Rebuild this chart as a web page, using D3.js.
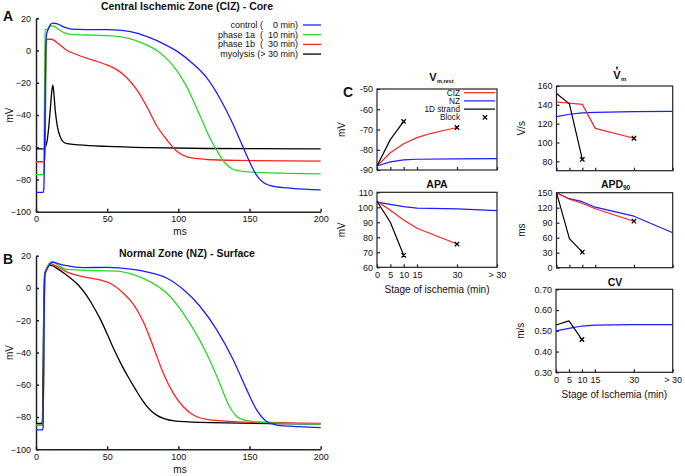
<!DOCTYPE html>
<html><head><meta charset="utf-8">
<script src="https://cdn.jsdelivr.net/npm/d3@7"></script>
<style>
body{margin:0;background:#fff;}
svg{font-family:"Liberation Sans",Arial,Helvetica,sans-serif;}
text{fill:#111;}
</style></head><body>
<svg id="c" width="685" height="476"></svg>
<script>
// ---------- DATA ----------
// Panel A (Central Ischemic Zone - Core), [ms, mV]
const apA_control = [[0,-88],[5,-88],[5.5,-86],[6.3,-40],[6.9,0],[7.4,10],[8.5,13],[10,16],[12,17],[15,16.5],[20,14.5],[25,13.3],[35,13],[50,13],[60,12.5],[70,11],[80,8],[90,4],[100,-1],[110,-8],[120,-17],[130,-31],[138,-45],[145,-59],[150,-69],[155,-77.5],[160,-82],[167,-84.3],[180,-85.5],[200,-86.5]];
const apA_phase1a = [[0,-77],[5,-77],[5.5,-74],[6,-20],[6.4,13],[8,13.3],[9,14],[11,15.3],[13,15],[16,13],[20,11],[25,10],[40,9.5],[55,9],[65,7.5],[75,4.5],[85,0],[95,-8],[105,-21],[115,-40],[122,-54],[127,-62],[132,-69],[138,-73.5],[145,-75],[160,-75.8],[200,-76.5]];
const apA_phase1b = [[0,-69],[6,-69],[6.5,-60],[7,0],[7.5,7],[11,7],[14,5.5],[17,3.4],[21,0.5],[28,-2.3],[40,-5.9],[50,-9],[57,-12],[64,-17],[71,-24.5],[78,-35],[85,-47],[92,-55.5],[99,-62.5],[106,-66],[120,-67.6],[140,-68.2],[200,-68.6]];
const apA_myolysis = [[0,-61],[5,-61],[6,-60.5],[7,-59],[8,-55],[9,-47],[10,-37],[11,-26],[11.8,-21.5],[12.5,-26],[13.5,-37],[15,-47],[17,-53.5],[19,-56.5],[22,-57.8],[30,-58.5],[50,-59.5],[80,-60.3],[120,-60.8],[200,-61]];
// Panel B (Normal Zone - Surface), [ms, mV]
const apB_control = [[0,-88],[4.5,-88],[5,-86],[5.6,-30],[6.2,8],[8,12],[10,15],[12,16],[16,15],[21.5,13.8],[33,12.6],[50,12.8],[68,11.5],[80,9.5],[92,6],[103.5,-1],[115,-11.2],[127,-26],[138.6,-44.6],[148,-63],[155,-75.6],[162,-82.8],[169,-85],[185,-86],[200,-86.6]];
const apB_phase1a = [[0,-85],[4.5,-85],[5,-83],[5.6,-30],[6.2,8],[8,13],[11,16.3],[14,15],[21.5,11.5],[45,10.7],[57,10.5],[68,8.4],[80,3.9],[92,-3.3],[103.5,-15.7],[115,-32.3],[122,-44.6],[129,-59],[136,-73.6],[143,-80.8],[152.7,-82.8],[162,-83.5],[200,-84.3]];
const apB_phase1b = [[0,-85],[4.5,-85],[5,-83],[5.6,-30],[6.2,8],[8,13],[9.8,15.2],[13,14],[17,12.2],[21.5,10],[33,7],[45,5],[52,2.9],[61.4,-3.3],[68,-9.5],[75.4,-20.9],[82.4,-36.4],[89.5,-53],[96.5,-65.3],[103.5,-73.6],[110.5,-78.7],[120,-81.4],[138.6,-82.8],[200,-83.9]];
const apB_myolysis = [[0,-84],[4,-84],[4.5,-82],[5.2,-30],[6,8],[7.5,12],[9.4,14.2],[12,13.6],[15,12],[20,9],[25,5.5],[30,1.5],[35,-4],[40,-11],[45,-19],[50,-28.5],[55,-38.5],[60,-47.5],[65,-55.5],[70,-63],[75,-70],[80,-75.5],[85,-79],[90,-81],[97,-82.4],[115,-83.3],[200,-84.3]];

const apXTicks = [0,50,100,150,200];
const apYTicks = [-100,-80,-60,-40,-20,0,20];
const legendLabels = ["control (    0 min)","phase 1a  (  10 min)","phase 1b  (  30 min)","myolysis (> 30 min)"];

// Panel C: stage of ischemia (min); "> 30" plotted at 45
const stageTicks = [0,5,10,15,30,45];
const stageLabels = ["0","5","10","15","30","> 30"];

const vrest_CIZ = [[0,-88],[5,-81.5],[10,-77],[15,-74],[20,-72],[25,-70.5],[30,-69]];
const vrest_NZ = [[0,-88],[5,-86],[10,-85],[15,-84.7],[30,-84.5],[45,-84.4]];
const vrest_strand = [[0,-88],[5,-75],[10,-66]];
const vrest_block = [[10,-66],[30,-69]];
const vrestTicks = [-90,-80,-70,-60,-50];

const apa_CIZ = [[0,104],[5,98],[10,91.5],[15,86],[30,75.5]];
const apa_NZ = [[0,103.5],[5,102],[10,100.5],[15,99.5],[30,99],[45,97.8]];
const apa_strand = [[0,104],[5,90],[10,68]];
const apa_block = [[10,68],[30,75.5]];
const apaTicks = [60,70,80,90,100,110];

const dvdt_CIZ = [[0,143],[10,140.5],[15,115],[30,104.5]];
const dvdt_NZ = [[0,127.5],[5,130],[10,131.5],[15,132],[30,132.8],[45,133]];
const dvdt_strand = [[0,152],[5,141],[10,82]];
const dvdt_block = [[10,82],[30,104.5]];
const dvdtTicks = [80,100,120,140,160];

const apd_CIZ = [[0,150],[5,137],[10,129],[15,118],[30,93]];
const apd_NZ = [[0,150],[5,138],[10,132],[15,121],[30,103],[45,70]];
const apd_strand = [[0,150],[5,58],[10,31]];
const apd_block = [[10,31],[30,93]];
const apdTicks = [0,30,60,90,120,150];

const cv_NZ = [[0,0.50],[5,0.512],[10,0.523],[15,0.527],[30,0.53],[45,0.53]];
const cv_strand = [[0,0.528],[5,0.548],[10,0.458]];
const cv_block = [[10,0.458]];
const cvTicks = [0.30,0.40,0.50,0.60,0.70];

// ---------- STYLE ----------
const BLUE="#1c1cff", GREEN="#2ad82a", RED="#ff2020", BLACK="#000";
const svg = d3.select("#c");

// ---------- PANELS A & B ----------
function apPanel(cfg){
  const x = d3.scaleLinear().domain([0,200]).range([36,320.7]);
  const y = d3.scaleLinear().domain([-100,20]).range([cfg.yb,cfg.yt]);
  const g = svg.append("g");
  const ax = g.append("g").attr("transform",`translate(36,0)`)
    .call(d3.axisLeft(y).tickValues(apYTicks).tickSize(-3).tickSizeOuter(0).tickPadding(5));
  const bx = g.append("g").attr("transform",`translate(0,${cfg.yb})`)
    .call(d3.axisBottom(x).tickValues(apXTicks).tickSize(-3).tickSizeOuter(0).tickPadding(4));
  [ax,bx].forEach(a=>{a.selectAll("text").attr("font-size",9).attr("font-family",null).attr("fill","#111");
    a.selectAll("path,line").attr("stroke","#222").attr("stroke-width",1.5);});
  const line = d3.line().x(d=>x(d[0])).y(d=>y(d[1])).curve(d3.curveMonotoneX);
  cfg.series.forEach(s=>{
    g.append("path").datum(s.data).attr("d",line).attr("fill","none")
      .attr("stroke",s.color).attr("stroke-width",1.3).attr("stroke-linejoin","round");
  });
  g.append("text").attr("x",187).attr("y",cfg.titleY).attr("text-anchor","middle")
    .attr("font-weight","bold").attr("font-size",10.5).text(cfg.title);
  g.append("text").attr("x",3).attr("y",cfg.letterY).attr("font-weight","bold").attr("font-size",14).text(cfg.letter);
  g.append("text").attr("transform",`translate(13,${(cfg.yt+cfg.yb)/2}) rotate(-90)`)
    .attr("text-anchor","middle").attr("font-size",10).text("mV");
  g.append("text").attr("x",180).attr("y",cfg.yb+23.5).attr("text-anchor","middle").attr("font-size",10).text("ms");
  return g;
}
const gA = apPanel({yt:18.3,yb:211.7,titleY:10,letterY:21,letter:"A",title:"Central Ischemic Zone (CIZ) - Core",
  series:[{data:apA_myolysis,color:BLACK},{data:apA_phase1b,color:RED},{data:apA_phase1a,color:GREEN},{data:apA_control,color:BLUE}]});
const gB = apPanel({yt:255.7,yb:449.3,titleY:256.5,letterY:264,letter:"B",title:"Normal Zone (NZ) - Surface",
  series:[{data:apB_myolysis,color:BLACK},{data:apB_phase1b,color:RED},{data:apB_phase1a,color:GREEN},{data:apB_control,color:BLUE}]});

// legend A
const legCols=[BLUE,GREEN,RED,BLACK];
legendLabels.forEach((t,i)=>{
  const yy = 25 + i*9.7;
  gA.append("text").attr("x",298).attr("y",yy+3).attr("text-anchor","end").attr("font-size",9)
    .style("white-space","pre").attr("xml:space","preserve").text(t);
  gA.append("line").attr("x1",303).attr("x2",321).attr("y1",yy).attr("y2",yy)
    .attr("stroke",legCols[i]).attr("stroke-width",1.3);
});

// ---------- PANEL C ----------
function blockMark(g,px,py){
  g.append("path").attr("d",`M${px-2.2},${py-2.2}L${px+2.2},${py+2.2}M${px-2.2},${py+2.2}L${px+2.2},${py-2.2}`)
    .attr("stroke","#000").attr("stroke-width",1.3);
}
function smallPanel(cfg){
  const x = d3.scaleLinear().domain([0,45]).range([cfg.x0,cfg.x1]);
  const y = d3.scaleLinear().domain(cfg.dom).range([cfg.yb,cfg.yt]);
  const g = svg.append("g");
  const ay = g.append("g").attr("transform",`translate(${cfg.x0},0)`)
    .call(d3.axisLeft(y).tickValues(cfg.ticks).tickSize(-3).tickSizeOuter(0).tickPadding(4)
      .tickFormat(cfg.fmt||(d=>d)));
  const ax = g.append("g").attr("transform",`translate(0,${cfg.yb})`)
    .call(d3.axisBottom(x).tickValues(stageTicks).tickSize(-3).tickSizeOuter(0).tickPadding(4)
      .tickFormat((d,i)=>cfg.xlabels?stageLabels[i]:""));
  [ay,ax].forEach(a=>{a.selectAll("text").attr("font-size",9).attr("font-family",null).attr("fill","#111");
    a.select(".domain").remove(); a.selectAll("line").attr("stroke","#222").attr("stroke-width",1.2);});
  g.append("rect").attr("x",cfg.x0).attr("y",cfg.yt).attr("width",cfg.x1-cfg.x0).attr("height",cfg.yb-cfg.yt)
    .attr("fill","none").attr("stroke","#222").attr("stroke-width",1.2);
  const line = d3.line().x(d=>x(d[0])).y(d=>y(d[1]));
  cfg.series.forEach(s=>{
    g.append("path").datum(s.data).attr("d",line).attr("fill","none")
      .attr("stroke",s.color).attr("stroke-width",1.2).attr("stroke-linejoin","round");
  });
  cfg.block.forEach(d=>blockMark(g,x(d[0]),y(d[1])));
  g.append("text").attr("transform",`translate(${cfg.x0-32},${(cfg.yt+cfg.yb)/2}) rotate(-90)`)
    .attr("text-anchor","middle").attr("font-size",10).text(cfg.ylab);
  cfg.title(g);
  if(cfg.xtitle){
    g.append("text").attr("x",(cfg.x0+cfg.x1)/2).attr("y",cfg.yb+26).attr("text-anchor","middle")
      .attr("font-size",10).text(cfg.xtitle);
  }
  return g;
}
function boldText(g,x,y,s,size,anchor){
  return g.append("text").attr("x",x).attr("y",y).attr("text-anchor",anchor||"middle")
    .attr("font-weight","bold").attr("font-size",size||10.5).text(s);
}
const gV = smallPanel({x0:377,x1:497,yt:89,yb:170,dom:[-90,-50],ticks:vrestTicks,ylab:"mV",
  title:g=>{boldText(g,433,81,"V",11); boldText(g,437,83,"m,rest",5.5,"start");},
  series:[{data:vrest_NZ,color:BLUE},{data:vrest_CIZ,color:RED},{data:vrest_strand,color:BLACK}],block:vrest_block});
smallPanel({x0:377,x1:497,yt:192.3,yb:267.3,dom:[60,110],ticks:apaTicks,ylab:"mV",xlabels:true,
  xtitle:"Stage of ischemia (min)",title:g=>boldText(g,437,188,"APA"),
  series:[{data:apa_NZ,color:BLUE},{data:apa_CIZ,color:RED},{data:apa_strand,color:BLACK}],block:apa_block});
smallPanel({x0:556.5,x1:672.7,yt:86,yb:170.7,dom:[70,160],ticks:dvdtTicks,ylab:"V/s",
  title:g=>{boldText(g,617,79,"V",11); boldText(g,621,81,"m",6,"start");
    g.append("circle").attr("cx",617).attr("cy",67.5).attr("r",1).attr("fill","#111");
    g.append("line").attr("x1",617).attr("x2",617).attr("y1",68).attr("y2",70).attr("stroke","#111").attr("stroke-width",0.8);},
  series:[{data:dvdt_NZ,color:BLUE},{data:dvdt_CIZ,color:RED},{data:dvdt_strand,color:BLACK}],block:dvdt_block});
smallPanel({x0:556.5,x1:672.7,yt:192.7,yb:267.7,dom:[0,150],ticks:apdTicks,ylab:"ms",
  title:g=>{boldText(g,612,187.5,"APD"); boldText(g,623,189.5,"90",6.5,"start");},
  series:[{data:apd_NZ,color:BLUE},{data:apd_CIZ,color:RED},{data:apd_strand,color:BLACK}],block:apd_block});
smallPanel({x0:556,x1:672.7,yt:289.3,yb:372.3,dom:[0.30,0.70],ticks:cvTicks,ylab:"m/s",xlabels:true,
  fmt:d3.format(".2f"),xtitle:"Stage of Ischemia (min)",title:g=>boldText(g,615,286,"CV"),
  series:[{data:cv_NZ,color:BLUE},{data:cv_strand,color:BLACK}],block:cv_block});

// "C" label and legend
svg.append("text").attr("x",343).attr("y",97).attr("font-weight","bold").attr("font-size",14).text("C");
const cLeg=[["CIZ",RED],["NZ",BLUE],["1D strand",BLACK],["Block",null]];
cLeg.forEach((d,i)=>{
  const yy=92.7+i*8.2;
  gV.append("text").attr("x",460).attr("y",yy+2.8).attr("text-anchor","end").attr("font-size",8.2).text(d[0]);
  if(d[1]) gV.append("line").attr("x1",464).attr("x2",495).attr("y1",yy).attr("y2",yy).attr("stroke",d[1]).attr("stroke-width",1.2);
  else blockMark(gV,485,yy);
});
</script></body></html>
